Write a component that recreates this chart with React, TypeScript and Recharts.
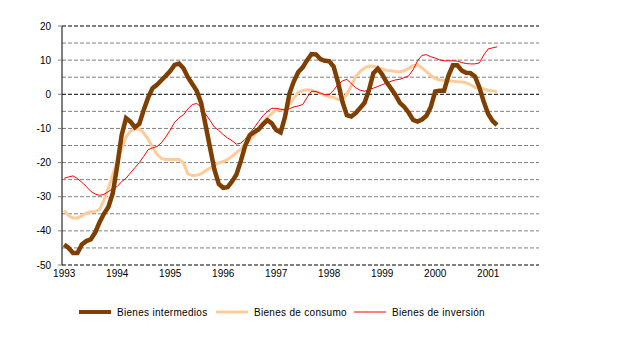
import React from 'react';
import { LineChart, Line, XAxis, YAxis, ReferenceLine } from 'recharts';

const yearLabels = ['1993', '1994', '1995', '1996', '1997', '1998', '1999', '2000', '2001'];
const yTicks = [-50, -40, -30, -20, -10, 0, 10, 20];
const gridLevels = [20, 15, 10, 5, 0, -5, -10, -15, -20, -25, -30, -35, -40, -45, -50];
const darkLevels = [20, 0, -50];

const seriesNames = ['Bienes intermedios', 'Bienes de consumo', 'Bienes de inversión'];

const intermedios = [
  -44, -45, -46.5, -46.5, -44, -43, -42.5, -40.5, -37.5, -35, -33, -29,
  -21, -12, -7, -8, -9.7, -8.7, -4.6, -1, 1.8, 2.8, 4.1, 5.4,
  6.8, 8.6, 9.0, 7.6, 5, 3, 1, -2.5, -9, -15.5, -22, -26.3,
  -27.4, -27.2, -25.5, -23.5, -19.5, -15, -12, -11.1, -10.3, -8.8, -7.6, -8.5,
  -10.5, -11.2, -6.6, 0.2, 3.8, 6.5, 7.9, 10, 11.8, 11.7, 10.3, 9.8,
  9.7, 8.1, 3.5, -2.2, -6.1, -6.5, -5.5, -4, -2.5, 1.2, 6.2, 7.5,
  5.8, 3.5, 1.7, -0.2, -2.5, -3.7, -5.4, -7.5, -8, -7.4, -6.3, -3.7,
  0.8, 1.0, 1.0, 5.5, 8.5, 8.5, 7, 6.3, 6.2, 5.2, 2, -2.2,
  -5.8, -7.8, -9,
];

const consumo = [
  -34, -35.6, -36.2, -36.2, -35.6, -34.8, -34.4, -34.3, -33.8, -31, -27.5, -23.5,
  -19.5, -16, -12.5, -10.8, -10.1, -10.2, -11.3, -13.2, -15.5, -17.5, -18.8, -19.1,
  -19.1, -19, -19.1, -20.2, -23.3, -23.8, -23.7, -23.3, -22.4, -21.6, -20.8, -20.1,
  -19.7, -19.1, -18.2, -17, -16.1, -14.7, -13.5, -12, -10.3, -8.3, -6.8, -5.6,
  -4.6, -4.6, -4.6, -3.0, -1.1, 0.5, 1.1, 1.3, 1.2, 0.8, 0.3, -0.3,
  -0.7, -0.9, -1.5, -1.5, 0, 2.5, 5.2, 6.7, 7.7, 8.3, 8.2, 7.8,
  7.4, 7.0, 6.9, 6.7, 6.6, 6.9, 7.6, 8.4, 8.6, 7.8, 6.6, 5.5,
  4.6, 4.2, 4.1, 4.0, 3.8, 3.7, 3.6, 3.4, 2.8, 2.0, 1.7, 1.6,
  1.2, 1.0, 0.8,
];

const inversion = [
  -24.6, -24.2, -23.9, -24.7, -25.8, -27, -28.4, -29.2, -29.6, -29.3, -28.5, -27.6,
  -27, -25.6, -24.6, -23, -21.5, -20, -18.2, -16.2, -15.7, -15.3, -14.2, -12.5,
  -10.5, -8.2, -6.9, -6, -4.3, -3.0, -2.7, -3.7, -5.8, -7.6, -9.6, -10.6,
  -11.8, -12.8, -13.6, -14.6, -14.3, -13.1, -11.4, -9.8, -8.0, -6.3, -5.0, -4.1,
  -4.1, -4.4, -4.6, -4.2, -3.7, -3.4, -3.0, -0.9, 0.9, 0.8, 0.3, -0.1,
  -0.1, 1.2, 2.9, 3.9, 4.4, 3.1, 1.9, 1.2, 0.9, 1.3, 1.8, 2.3,
  2.8, 3.3, 3.8, 4.2, 4.4, 4.9, 5.4, 7.2, 9.8, 11.4, 11.6, 11.0,
  10.6, 10.1, 9.8, 9.8, 9.8, 9.7, 9.3, 9.0, 8.9, 8.9, 9.2, 11.5,
  13.3, 13.6, 13.9,
];

const colors = ['#7F3F00', '#FFCC99', '#FF0000'];
const widths = [4.5, 3, 1];

const data = intermedios.map((v, i) => ({
  m: i + 0.5,
  intermedios: v,
  consumo: consumo[i],
  inversion: inversion[i],
}));

const FONT = '"Liberation Sans", Arial, sans-serif';

const ChartLegend = () => {
  const lefts = [79, 216, 354];
  return (
    <div style={{ position: 'absolute', left: 0, top: 304, width: 640, height: 16, fontFamily: FONT, fontSize: 10, color: '#000' }}>
      {seriesNames.map((name, i) => (
        <div key={name} style={{ position: 'absolute', left: lefts[i], top: 0, display: 'flex', alignItems: 'center', height: 16 }}>
          <svg width={32} height={8} style={{ display: 'block' }}>
            <line x1={0} y1={4} x2={32} y2={4} stroke={colors[i]} strokeWidth={i === 0 ? 4 : widths[i]} />
          </svg>
          <span style={{ marginLeft: 6, letterSpacing: 0.3, whiteSpace: 'nowrap' }}>{name}</span>
        </div>
      ))}
    </div>
  );
};

export default function App() {
  return (
    <div style={{ position: 'absolute', left: 0, top: 0, width: 640, height: 359, background: '#fff' }}>
      <LineChart
        width={640}
        height={359}
        data={data}
        margin={{ top: 26, right: 101, left: 0, bottom: 74 }}
      >
        {gridLevels.map((g) => (
          <ReferenceLine
            key={g}
            y={g}
            stroke={darkLevels.includes(g) ? '#000000' : '#808080'}
            strokeDasharray="4 2"
            strokeWidth={1}
            ifOverflow="extendDomain"
          />
        ))}
        <XAxis
          dataKey="m"
          type="number"
          domain={[0, 108]}
          ticks={yearLabels.map((_, i) => i * 12 + 0.5)}
          tickFormatter={(v: number) => yearLabels[Math.round((v - 0.5) / 12)]}
          interval={0}
          axisLine={false}
          tickLine={false}
          tickSize={3}
          tickMargin={2}
          height={20}
          tick={{ fill: '#000', fontSize: 10, fontFamily: FONT }}
        />
        <YAxis
          type="number"
          domain={[-50, 20]}
          ticks={yTicks}
          interval={0}
          width={62}
          axisLine={{ stroke: '#000', strokeWidth: 1 }}
          tickLine={{ stroke: '#808080' }}
          tickSize={4}
          tickMargin={7}
          tick={{ fill: '#000', fontSize: 10, fontFamily: FONT }}
        />
        <Line dataKey="consumo" name={seriesNames[1]} stroke={colors[1]} strokeWidth={widths[1]} dot={false} isAnimationActive={false} />
        <Line dataKey="inversion" name={seriesNames[2]} stroke={colors[2]} strokeWidth={widths[2]} dot={false} isAnimationActive={false} />
        <Line dataKey="intermedios" name={seriesNames[0]} stroke={colors[0]} strokeWidth={widths[0]} dot={false} isAnimationActive={false} />
      </LineChart>
      <ChartLegend />
    </div>
  );
}
